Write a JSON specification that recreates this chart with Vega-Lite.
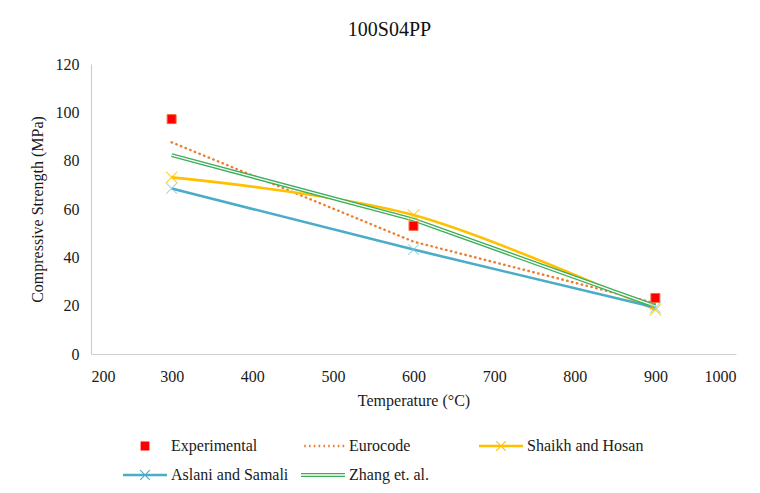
{
  "$schema": "https://vega.github.io/schema/vega-lite/v6.json",
  "width": 645,
  "height": 290,
  "autosize": {"type": "none"},
  "padding": {"left": 91, "top": 64, "right": 24, "bottom": 139},
  "background": "white",
  "title": {
    "text": "100S04PP",
    "font": "Liberation Serif",
    "fontSize": 20,
    "fontWeight": "normal",
    "color": "#111111",
    "anchor": "middle",
    "dx": -24,
    "offset": 16
  },
  "config": {
    "view": {"stroke": null},
    "font": "Liberation Serif",
    "style": {
      "guide-label": {"font": "Liberation Serif", "fontSize": 16},
      "guide-title": {"font": "Liberation Serif", "fontSize": 16, "fontWeight": "normal"}
    },
    "axis": {
      "labelFont": "Liberation Serif",
      "labelFontSize": 16,
      "labelColor": "#1a1a1a",
      "titleFont": "Liberation Serif",
      "titleFontSize": 16,
      "titleFontWeight": "normal",
      "titleColor": "#1a1a1a",
      "domainColor": "#d0d0d0",
      "domainWidth": 1.2,
      "ticks": false,
      "grid": false
    }
  },
  "datasets": {
    "strength": [
      {"series": "Experimental", "temperature": 300, "strength": 97.2},
      {"series": "Experimental", "temperature": 600, "strength": 53.0},
      {"series": "Experimental", "temperature": 900, "strength": 23.2},
      {"series": "Eurocode", "temperature": 300, "strength": 87.6},
      {"series": "Eurocode", "temperature": 600, "strength": 46.5},
      {"series": "Eurocode", "temperature": 900, "strength": 21.0},
      {"series": "Shaikh and Hosan", "temperature": 300, "strength": 73.1},
      {"series": "Shaikh and Hosan", "temperature": 600, "strength": 57.5},
      {"series": "Shaikh and Hosan", "temperature": 900, "strength": 18.3},
      {"series": "Aslani and Samali", "temperature": 300, "strength": 68.5},
      {"series": "Aslani and Samali", "temperature": 600, "strength": 43.2},
      {"series": "Aslani and Samali", "temperature": 900, "strength": 19.2},
      {"series": "Zhang et. al.", "temperature": 300, "strength": 82.3},
      {"series": "Zhang et. al.", "temperature": 600, "strength": 55.6},
      {"series": "Zhang et. al.", "temperature": 900, "strength": 19.8}
    ]
  },
  "data": {"name": "strength"},
  "encoding": {
    "x": {
      "field": "temperature",
      "type": "quantitative",
      "scale": {"domain": [200, 1000], "nice": false},
      "axis": {
        "values": [200, 300, 400, 500, 600, 700, 800, 900, 1000],
        "format": "d",
        "labelFont": "Liberation Serif",
        "labelFontSize": 16,
        "title": "Temperature (°C)",
        "titleFont": "Liberation Serif",
        "labelPadding": 14,
        "titlePadding": 8
      }
    },
    "y": {
      "field": "strength",
      "type": "quantitative",
      "scale": {"domain": [0, 120], "nice": false},
      "axis": {
        "values": [0, 20, 40, 60, 80, 100, 120],
        "format": "d",
        "labelFont": "Liberation Serif",
        "labelFontSize": 16,
        "title": "Compressive Strength (MPa)",
        "titleFont": "Liberation Serif",
        "labelPadding": 12,
        "titlePadding": 10
      }
    }
  },
  "layer": [
    {
      "transform": [{"filter": "datum.series === 'Eurocode'"}],
      "mark": {"type": "line", "color": "#ED7D31", "strokeWidth": 2.4, "strokeDash": [0.5, 4.5], "strokeCap": "round"}
    },
    {
      "transform": [{"filter": "datum.series === 'Shaikh and Hosan'"}],
      "mark": {"type": "line", "color": "#FFC000", "strokeWidth": 2.6, "interpolate": "cardinal"}
    },
    {
      "transform": [{"filter": "datum.series === 'Aslani and Samali'"}],
      "mark": {"type": "line", "color": "#4BACC6", "strokeWidth": 2.6}
    },
    {
      "transform": [{"filter": "datum.series === 'Zhang et. al.'"}],
      "mark": {"type": "line", "color": "#3FAE5A", "strokeWidth": 4}
    },
    {
      "transform": [{"filter": "datum.series === 'Zhang et. al.'"}],
      "mark": {"type": "line", "color": "#ffffff", "strokeWidth": 1.3}
    },
    {
      "transform": [{"filter": "datum.series === 'Shaikh and Hosan'"}],
      "mark": {"type": "point", "shape": "M-1,-1L1,1M-1,1L1,-1", "size": 130, "filled": false, "color": "#FFC000", "strokeWidth": 1.2}
    },
    {
      "transform": [{"filter": "datum.series === 'Aslani and Samali'"}],
      "mark": {"type": "point", "shape": "M-1,-1L1,1M-1,1L1,-1", "size": 110, "filled": false, "color": "#7DC8DE", "strokeWidth": 1.1}
    },
    {
      "transform": [{"filter": "datum.series === 'Experimental'"}],
      "mark": {"type": "point", "shape": "square", "size": 80, "filled": true, "fill": "#FF0000", "stroke": "#F26B3A", "strokeWidth": 1, "opacity": 1}
    },
    {
      "mark": {"type": "point", "filled": false, "opacity": 0},
      "encoding": {
        "color": {
          "field": "series",
          "type": "nominal",
          "scale": {
            "domain": ["Experimental", "Eurocode", "Shaikh and Hosan", "Aslani and Samali", "Zhang et. al."],
            "range": ["#FF0000", "#ED7D31", "#FFC000", "#4BACC6", "#3FAE5A"]
          }
        },
        "shape": {
          "field": "series",
          "type": "nominal",
          "scale": {
            "domain": ["Experimental", "Eurocode", "Shaikh and Hosan", "Aslani and Samali", "Zhang et. al."],
            "range": [
              "M1.2,-0.5H2.3M1.2,-0.375H2.3M1.2,-0.25H2.3M1.2,-0.125H2.3M1.2,0H2.3M1.2,0.125H2.3M1.2,0.25H2.3M1.2,0.375H2.3M1.2,0.5H2.3",
              "M-0.6,-0.08H-0.4M-0.6,0.08H-0.4M0,-0.08H0.2M0,0.08H0.2M0.6,-0.08H0.8M0.6,0.08H0.8M1.2,-0.08H1.4M1.2,0.08H1.4M1.8,-0.08H2M1.8,0.08H2M2.4,-0.08H2.6M2.4,0.08H2.6M3,-0.08H3.2M3,0.08H3.2M3.6,-0.08H3.8M3.6,0.08H3.8M4.2,-0.08H4.4M4.2,0.08H4.4",
              "M-1,-0.1H4.5M-1,0H4.5M-1,0.1H4.5M1.15,-0.6L2.35,0.6M1.15,0.6L2.35,-0.6",
              "M-1,-0.1H4.5M-1,0H4.5M-1,0.1H4.5M1.15,-0.6L2.35,0.6M1.15,0.6L2.35,-0.6",
              "M-1,-0.17H4.5M-1,0.17H4.5"
            ]
          },
          "legend": {
            "title": null,
            "orient": "none",
            "legendX": 31,
            "legendY": 373,
            "direction": "horizontal",
            "columns": 3,
            "gridAlign": "all",
            "columnPadding": 9,
            "rowPadding": 12,
            "symbolSize": 256,
            "symbolStrokeWidth": 1.1,
            "symbolOpacity": 1,
            "labelFont": "Liberation Serif",
            "labelFontSize": 16,
            "labelColor": "#1a1a1a",
            "labelOffset": 31,
            "labelLimit": 300
          }
        }
      }
    }
  ]
}
